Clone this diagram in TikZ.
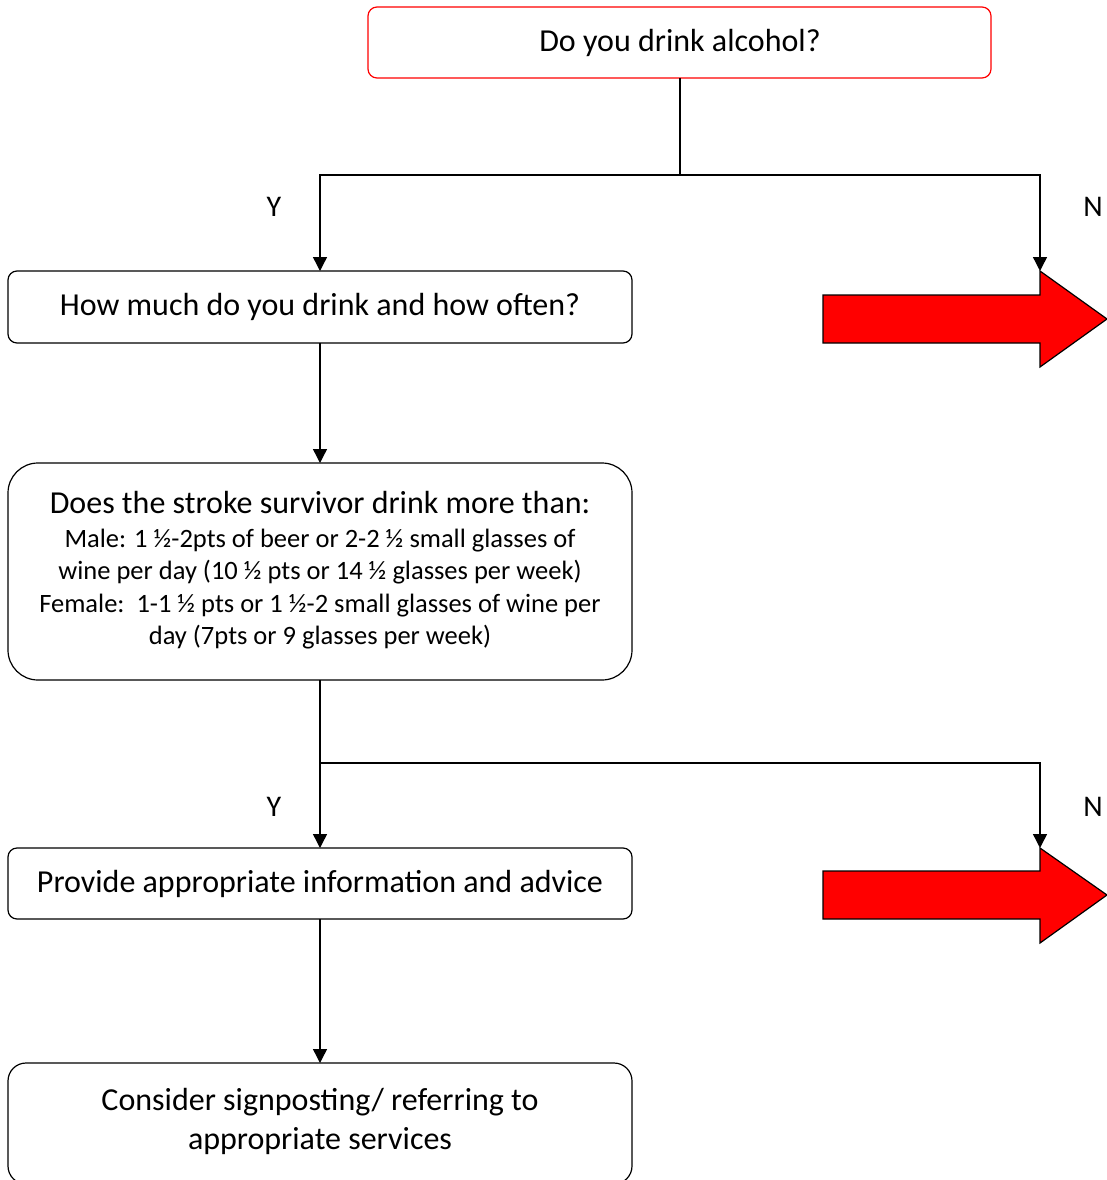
\documentclass[tikz,border=0pt]{standalone}
\usepackage{fontspec}
\setmainfont{Carlito}
\usetikzlibrary{arrows.meta}
\begin{document}
\begin{tikzpicture}[x=1pt,y=-1pt,
  box/.style={draw=black,line width=1.2pt,fill=white,rounded corners=9pt},
  conn/.style={line width=1.4pt},
  arr/.style={conn,-{Triangle[width=14pt,length=14pt]}},
  lbl/.style={font=\fontsize{32}{38}\selectfont},
  ynlbl/.style={font=\fontsize{30}{36}\selectfont},
  bigarrow/.style={draw=black,line width=1.2pt,fill=red}]
\useasboundingbox (0,0) rectangle (1107,1180);
\clip (0,0) rectangle (1107,1180);

% boxes
\draw[box,draw=red] (368,7) rectangle (991,78);
\node[lbl] (q1) at (680,43) {Do you drink alcohol?};
\coordinate (q1s) at (680,78);

\draw[box] (8,271) rectangle (632,343);
\node[lbl] (b1) at (320,307) {How much do you drink and how often?};
\coordinate (b1n) at (320,271);
\coordinate (b1s) at (320,343);

\draw[box,rounded corners=30pt] (8,463) rectangle (632,680);
\node[align=center,font=\fontsize{26.5}{32.5}\selectfont,anchor=north] (b2) at (320,488)
  {{\fontsize{32}{36}\selectfont Does the stroke survivor drink more than:}\\[1pt]
   Male: 1 ½-2pts of beer or 2-2 ½ small glasses of\\
   wine per day (10 ½ pts or 14 ½ glasses per week)\\
   Female:\ \ 1-1 ½ pts or 1 ½-2 small glasses of wine per\\
   day (7pts or 9 glasses per week)};
\coordinate (b2n) at (320,463);
\coordinate (b2s) at (320,680);

\draw[box] (8,848) rectangle (632,919);
\node[lbl] (b3) at (320,884) {Provide appropriate information and advice};
\coordinate (b3n) at (320,848);
\coordinate (b3s) at (320,919);

\draw[box,rounded corners=18pt] (8,1063) rectangle (632,1184);
\node[lbl,align=center,font=\fontsize{32}{39}\selectfont] (b4) at (320,1121) {Consider signposting/ referring to\\ appropriate services};
\coordinate (b4n) at (320,1063);

% red "no" arrows
\draw[bigarrow] (823,295) -- (1040,295) -- (1040,271) -- (1107,319) -- (1040,367) -- (1040,343) -- (823,343) -- cycle;
\coordinate (n1) at (1040,271);
\draw[bigarrow] (823,871) -- (1040,871) -- (1040,848) -- (1107,895) -- (1040,943) -- (1040,919) -- (823,919) -- cycle;
\coordinate (n2) at (1040,848);

% connectors
\coordinate (j1) at (680,175);
\draw[conn] (q1s) -- (j1);
\draw[arr] (j1) -| (b1n);
\draw[arr] (j1) -| (n1);
\draw[arr] (b1s) -- (b2n);

\coordinate (j2) at (320,763);
\draw[conn] (b2s) -- (j2);
\draw[arr] (j2) -- (b3n);
\draw[arr] (j2) -| (n2);
\draw[arr] (b3s) -- (b4n);

% branch labels
\node[ynlbl] (y1) at (274,207) {Y};
\node[ynlbl] (m1) at (1093,207) {N};
\node[ynlbl] (y2) at (274,807) {Y};
\node[ynlbl] (m2) at (1093,807) {N};
\end{tikzpicture}
\end{document}
